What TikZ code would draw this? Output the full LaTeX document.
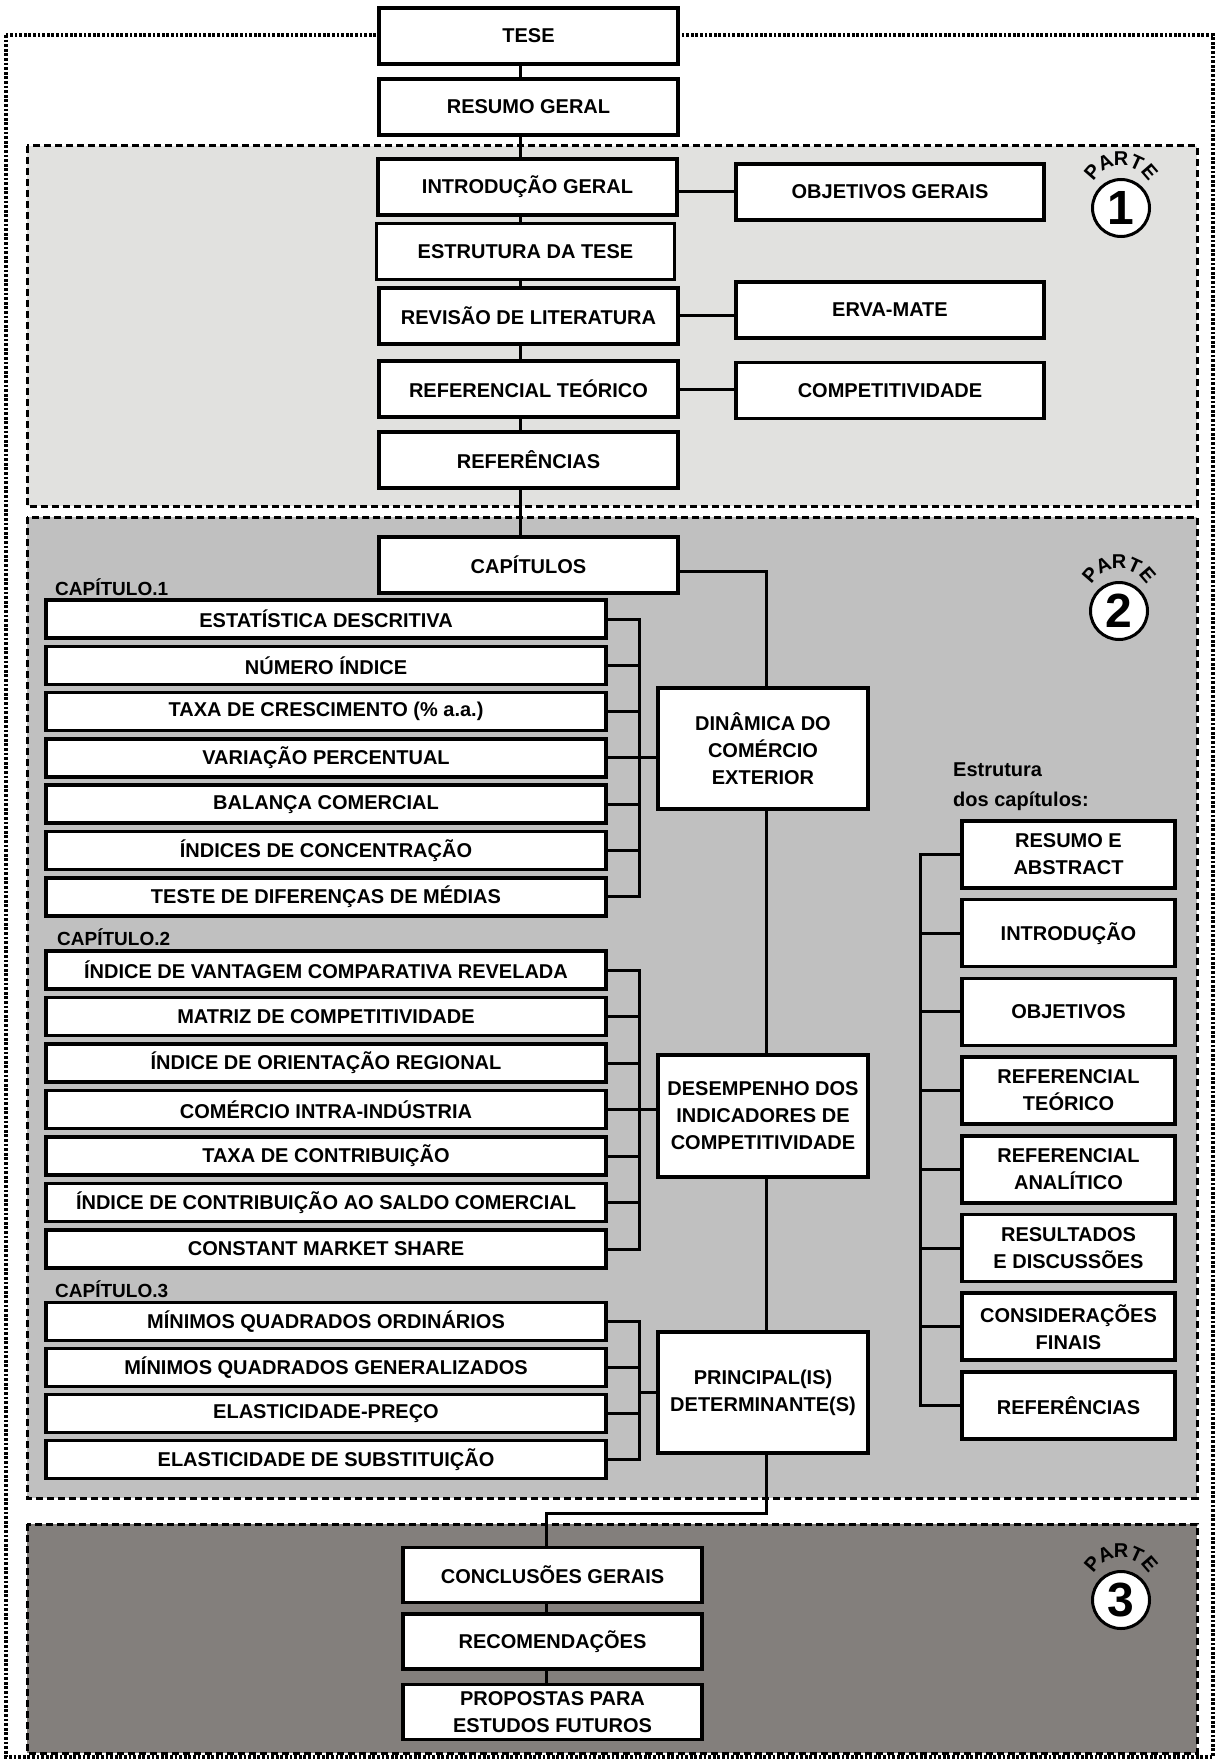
\documentclass[tikz,border=0pt]{standalone}
\usepackage{fontspec}
\setmainfont{Liberation Sans}
\usetikzlibrary{calc}

\definecolor{partA}{RGB}{225,225,223}
\definecolor{partB}{RGB}{192,192,192}
\definecolor{partC}{RGB}{131,127,124}

\newcommand\bxfont{\fontsize{20}{27}\selectfont\bfseries}

\pgfdeclarelayer{frames}
\pgfdeclarelayer{links}
\pgfsetlayers{frames,links,main}

\tikzset{
  box/.style={draw=black, line width=3.5pt, fill=white, inner sep=0pt,
              align=center, font=\bxfont},
  topbox/.style={box, minimum width=299pt, minimum height=56pt},
  sidebox/.style={box, minimum width=308pt, minimum height=56pt},
  toolbox/.style={box, minimum width=560pt, minimum height=38pt},
  midbox/.style={box, minimum width=210pt, minimum height=121pt},
  chapbox/.style={box, minimum width=213pt, minimum height=67pt},
  endbox/.style={box, minimum width=299pt, minimum height=55pt},
  conn/.style={draw=black, line width=3pt, line cap=rect},
  partframe/.style={draw=black, line width=3pt, dash pattern=on 7pt off 4pt},
  outerframe/.style={draw=black, line width=3.2pt, dash pattern=on 2.8pt off 1.8pt},
  chaplabel/.style={anchor=base west, inner sep=0pt, font=\fontsize{19}{19}\selectfont\bfseries},
  pics/partebadge/.style={code={
    \node[circle, draw=black, line width=3pt, fill=white, minimum size=57pt,
          inner sep=0pt, font=\fontsize{48}{48}\selectfont\bfseries] {#1};
    \foreach \ltr/\ang in {P/139, A/114.5, R/90, T/65.5, E/41}
      \node[inner sep=0pt, rotate=\ang-90, font=\fontsize{20}{20}\selectfont\bfseries]
        at ($(0pt,11pt)+(\ang:38pt)$) {\ltr};
  }}
}

\begin{document}
\begin{tikzpicture}[x=1pt, y=-1pt]
\useasboundingbox (0,0) rectangle (1218,1760);

\begin{pgfonlayer}{frames}
\fill[white] (0,0) rectangle (1218,1760);
% outer dotted frame around the whole thesis
\draw[outerframe] (6,35) rectangle (1213,1757);
% the three parts
\filldraw[partframe, fill=partA] (27,146) rectangle (1197,506);
\filldraw[partframe, fill=partB] (27,517) rectangle (1197,1498);
\filldraw[partframe, fill=partC] (27,1524) rectangle (1197,1753);
\end{pgfonlayer}

% guide coordinates for the connector lines
\coordinate (spineA) at (520,0);
\coordinate (spine) at (766,0);
\coordinate (spineC) at (546,0);
\coordinate (bkA) at (639,0);
\coordinate (bkR) at (920,0);
\coordinate (turn) at (766,1513);

% ---------- main column ----------
\node[topbox] (tese)      at (528.5,36)  {TESE};
\node[topbox] (resumo)    at (528.5,107) {RESUMO GERAL};
\node[topbox] (intro)     at (527.5,187) {INTRODUÇÃO GERAL};
\node[topbox, minimum width=298pt] (estrutura) at (525.5,251.5) {ESTRUTURA DA TESE};
\node[topbox] (revisao)   at (528.5,316) {REVISÃO DE LITERATURA};
\node[topbox] (reft)      at (528.5,389) {REFERENCIAL TEÓRICO};
\node[topbox] (refs)      at (528.5,460) {REFERÊNCIAS};
\node[topbox] (capitulos) at (528.5,565) {CAPÍTULOS};

% part 1 side boxes
\node[sidebox] (objg)   at (890,192)   {OBJETIVOS GERAIS};
\node[sidebox] (erva)   at (890,310)   {ERVA-MATE};
\node[sidebox] (compet) at (890,390.5) {COMPETITIVIDADE};

% chapter 1
\node[chaplabel] (lab1) at (55,595) {CAPÍTULO.1};
\node[toolbox] (c1a) at (326,619.0) {ESTATÍSTICA DESCRITIVA};
\node[toolbox] (c1b) at (326,665.3) {NÚMERO ÍNDICE};
\node[toolbox] (c1c) at (326,711.6) {TAXA DE CRESCIMENTO (\% a.a.)};
\node[toolbox] (c1d) at (326,757.9) {VARIAÇÃO PERCENTUAL};
\node[toolbox] (c1e) at (326,804.2) {BALANÇA COMERCIAL};
\node[toolbox] (c1f) at (326,850.5) {ÍNDICES DE CONCENTRAÇÃO};
\node[toolbox] (c1g) at (326,896.8) {TESTE DE DIFERENÇAS DE MÉDIAS};

% chapter 2
\node[chaplabel] (lab2) at (57,945) {CAPÍTULO.2};
\node[toolbox] (c2a) at (326,970.0)  {ÍNDICE DE VANTAGEM COMPARATIVA REVELADA};
\node[toolbox] (c2b) at (326,1016.5) {MATRIZ DE COMPETITIVIDADE};
\node[toolbox] (c2c) at (326,1063.0) {ÍNDICE DE ORIENTAÇÃO REGIONAL};
\node[toolbox] (c2d) at (326,1109.5) {COMÉRCIO INTRA-INDÚSTRIA};
\node[toolbox] (c2e) at (326,1156.0) {TAXA DE CONTRIBUIÇÃO};
\node[toolbox] (c2f) at (326,1202.5) {ÍNDICE DE CONTRIBUIÇÃO AO SALDO COMERCIAL};
\node[toolbox] (c2g) at (326,1249.0) {CONSTANT MARKET SHARE};

% chapter 3
\node[chaplabel] (lab3) at (55,1297) {CAPÍTULO.3};
\node[toolbox] (c3a) at (326,1321.5) {MÍNIMOS QUADRADOS ORDINÁRIOS};
\node[toolbox] (c3b) at (326,1367.5) {MÍNIMOS QUADRADOS GENERALIZADOS};
\node[toolbox] (c3c) at (326,1413.5) {ELASTICIDADE-PREÇO};
\node[toolbox] (c3d) at (326,1459.5) {ELASTICIDADE DE SUBSTITUIÇÃO};

% chapter themes
\node[midbox] (dinamica)   at (763,748.5)  {DINÂMICA DO\\COMÉRCIO\\EXTERIOR};
\node[midbox, minimum height=122pt] (desempenho) at (763,1116) {DESEMPENHO DOS\\INDICADORES DE\\COMPETITIVIDADE};
\node[midbox] (principal)  at (763,1392.5) {PRINCIPAL(IS)\\DETERMINANTE(S)};

% structure of every chapter
\node[anchor=north west, inner sep=0pt, align=left, font=\fontsize{20}{30}\selectfont\bfseries]
  (estr) at (953,763) {Estrutura\\dos capítulos:};
\node[chapbox] (s1) at (1068.5,854.5)  {RESUMO E\\ABSTRACT};
\node[chapbox] (s2) at (1068.5,933.2)  {INTRODUÇÃO};
\node[chapbox] (s3) at (1068.5,1011.9) {OBJETIVOS};
\node[chapbox] (s4) at (1068.5,1090.6) {REFERENCIAL\\TEÓRICO};
\node[chapbox] (s5) at (1068.5,1169.3) {REFERENCIAL\\ANALÍTICO};
\node[chapbox] (s6) at (1068.5,1248.0) {RESULTADOS\\E DISCUSSÕES};
\node[chapbox] (s7) at (1068.5,1326.7) {CONSIDERAÇÕES\\FINAIS};
\node[chapbox] (s8) at (1068.5,1405.4) {REFERÊNCIAS};

% part 3
\node[endbox] (conc)  at (552.5,1575)   {CONCLUSÕES GERAIS};
\node[endbox] (recom) at (552.5,1641.5) {RECOMENDAÇÕES};
\node[endbox] (prop)  at (552.5,1712)   {PROPOSTAS PARA\\ESTUDOS FUTUROS};

% part badges
\pic at (1121,208) {partebadge=1};
\pic at (1119,611) {partebadge=2};
\pic at (1121,1600) {partebadge=3};

% ---------- connectors (kept behind the boxes) ----------
\begin{pgfonlayer}{links}
% spine of the general parts
\foreach \a/\b in {tese/resumo, resumo/intro, intro/estrutura, estrutura/revisao,
                   revisao/reft, reft/refs, refs/capitulos}
  \draw[conn] (\a.south -| spineA) -- (\b.north -| spineA);
% side topics of part 1
\draw[conn] (objg.west -| intro.east) -- (objg.west);
\draw[conn] (revisao.east) -- (revisao.east -| erva.west);
\draw[conn] (reft.east) -- (reft.east -| compet.west);

% chapter spine
\draw[conn] ([yshift=-6pt]capitulos.east) -| (dinamica.north -| spine);
\draw[conn] (dinamica.south -| spine) -- (desempenho.north -| spine);
\draw[conn] (desempenho.south -| spine) -- (principal.north -| spine);
\draw[conn] (principal.south -| spine) -- (turn) -| (conc.north -| spineC);
\draw[conn] (conc.south -| spineC) -- (recom.north -| spineC);
\draw[conn] (recom.south -| spineC) -- (prop.north -| spineC);

% chapter 1 bracket
\foreach \n in {c1a,c1b,c1c,c1d,c1e,c1f,c1g}
  \draw[conn] (\n.east) -- (\n.east -| bkA);
\draw[conn] (c1a.east -| bkA) -- (c1g.east -| bkA);
\draw[conn] (c1d.east -| bkA) -- (c1d.east -| dinamica.west);

% chapter 2 bracket
\foreach \n in {c2a,c2b,c2c,c2d,c2e,c2f,c2g}
  \draw[conn] (\n.east) -- (\n.east -| bkA);
\draw[conn] (c2a.east -| bkA) -- (c2g.east -| bkA);
\draw[conn] (c2d.east -| bkA) -- (c2d.east -| desempenho.west);

% chapter 3 bracket
\foreach \n in {c3a,c3b,c3c,c3d}
  \draw[conn] (\n.east) -- (\n.east -| bkA);
\draw[conn] (c3a.east -| bkA) -- (c3d.east -| bkA);
\draw[conn] (principal.west -| bkA) -- (principal.west);

% chapter structure bracket
\foreach \n in {s1,s2,s3,s4,s5,s6,s7,s8}
  \draw[conn] (\n.west) -- (\n.west -| bkR);
\draw[conn] (s1.west -| bkR) -- (s8.west -| bkR);
\end{pgfonlayer}
\end{tikzpicture}
\end{document}
